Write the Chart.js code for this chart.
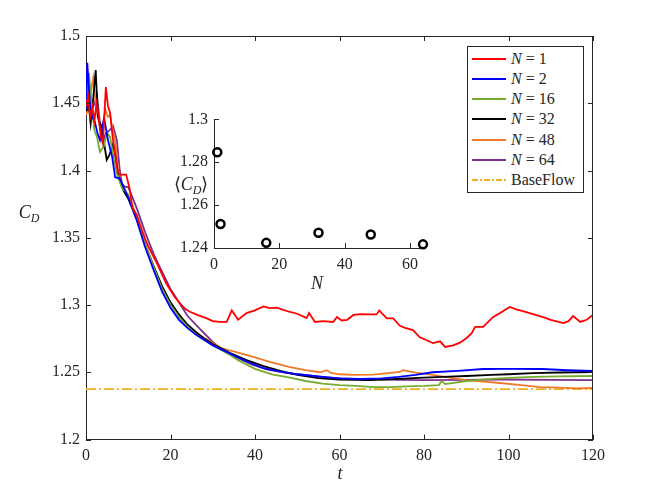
<!DOCTYPE html>
<html>
<head>
<meta charset="utf-8">
<script src="https://cdn.jsdelivr.net/npm/chart.js@4"></script>
<style>
  body { margin: 0; background: #fff; }
  #wrap { position: relative; width: 654px; height: 491px; font-family: "Liberation Serif", serif; color: #262626; }
  #main { position: absolute; left: 0; top: 0; }
  #inset { position: absolute; left: 150px; top: 95px; }
  .lab { position: absolute; transform: translate(-50%, -50%); white-space: nowrap; font-size: 18px; }
  .lab i { font-style: italic; }
  sub { font-size: 12px; vertical-align: -4px; font-style: italic; }
  #legend { position: absolute; left: 467px; top: 46px; width: 115px; height: 145px; border: 1px solid #262626; background: #fff; }
  .row { position: absolute; left: 0; height: 20px; font-size: 16px; line-height: 20px; }
  .row svg { position: absolute; left: 4px; top: 4px; }
  .row span { position: absolute; left: 43px; top: 0; white-space: nowrap; }
</style>
</head>
<body>
<div id="wrap">
  <canvas id="main" width="654" height="491"></canvas>
  <canvas id="inset" width="290" height="205"></canvas>
  <div class="lab" style="left:29px;top:214px"><i>C</i><sub>D</sub></div>
  <div class="lab" style="left:340px;top:473px"><i>t</i></div>
  <div class="lab" style="left:191px;top:185px">⟨<i>C</i><sub>D</sub>⟩</div>
  <div class="lab" style="left:317px;top:283px"><i>N</i></div>
  <div id="legend"></div>
</div>
<script>
// time histories of the drag coefficient, one per N
const t1 = [0, 0.5, 1, 1.5, 2, 2.5, 3, 3.5, 4, 4.7, 5.2, 5.7, 6.3, 7, 7.6, 8.2, 9.5, 10.3, 11, 12, 13, 14, 15, 16.8, 19, 21, 22.2, 23.5, 24.6, 26.5, 28.6, 30, 31.7, 33.3, 34.5, 36, 38, 40, 42, 43.5, 45.2, 46.5, 48.3, 50, 52.2, 52.8, 54.2, 56, 58.5, 59.4, 60.5, 61.8, 63.3, 65, 67, 68.8, 69.4, 71.2, 72.7, 74.3, 75.5, 77.4, 79, 80.5, 82.1, 83.8, 85, 86.9, 88.5, 90.1, 91.3, 92.1, 94, 96.3, 98, 100.3, 102, 103.4, 105, 108.2, 110, 113, 114.2, 115.3, 117, 118.5, 120]
const cd1 = [1.448, 1.455, 1.44, 1.447, 1.437, 1.45, 1.44, 1.425, 1.42, 1.462, 1.448, 1.443, 1.425, 1.41, 1.398, 1.397, 1.397, 1.387, 1.372, 1.367, 1.358, 1.349, 1.342, 1.331, 1.316, 1.306, 1.3015, 1.297, 1.295, 1.2925, 1.29, 1.288, 1.2874, 1.2874, 1.296, 1.289, 1.294, 1.296, 1.299, 1.2977, 1.298, 1.2965, 1.2948, 1.2935, 1.2903, 1.294, 1.2874, 1.288, 1.2874, 1.291, 1.2885, 1.289, 1.2926, 1.2932, 1.293, 1.293, 1.296, 1.29, 1.29, 1.2845, 1.283, 1.2814, 1.276, 1.274, 1.2717, 1.273, 1.2688, 1.27, 1.272, 1.2755, 1.279, 1.2837, 1.2837, 1.291, 1.294, 1.2985, 1.2965, 1.2955, 1.294, 1.291, 1.289, 1.2866, 1.288, 1.2918, 1.2874, 1.289, 1.2926]

const t2 = [0, 0.3, 1, 1.5, 2.1, 2.7, 3.3, 4.3, 5.2, 6.2, 6.9, 8, 9, 10, 12, 14, 16, 18, 20, 22, 24, 26, 28, 30, 34, 38, 42, 46, 50, 55, 60, 65, 70, 74, 78, 82, 88, 94, 100, 108, 114, 120]
const cd2 = [1.4465, 1.48, 1.447, 1.44, 1.436, 1.428, 1.4227, 1.439, 1.4227, 1.41, 1.395, 1.394, 1.387, 1.38, 1.363, 1.343, 1.326, 1.31, 1.298, 1.289, 1.283, 1.278, 1.274, 1.27, 1.264, 1.258, 1.253, 1.2505, 1.2485, 1.247, 1.2455, 1.245, 1.2455, 1.2465, 1.248, 1.25, 1.251, 1.2524, 1.2525, 1.2524, 1.2515, 1.251]

const t16 = [0, 0.7, 1.3, 2, 2.6, 3.3, 4.2, 5, 5.7, 6.5, 7.3, 8.5, 10, 12, 14, 16, 18, 20, 22, 24, 26, 28, 30, 32, 34, 36, 40, 44, 48, 52, 56, 60, 64, 68, 72, 76, 80, 83.5, 84.2, 85, 90, 96, 100, 106, 112, 120]
const cd16 = [1.45, 1.4725, 1.45, 1.43, 1.425, 1.4138, 1.418, 1.428, 1.425, 1.41, 1.398, 1.387, 1.382, 1.366, 1.346, 1.328, 1.312, 1.3, 1.291, 1.284, 1.278, 1.274, 1.27, 1.2665, 1.263, 1.259, 1.2525, 1.2485, 1.2462, 1.2435, 1.2415, 1.2405, 1.2398, 1.239, 1.239, 1.2395, 1.2398, 1.2405, 1.2435, 1.2412, 1.2435, 1.245, 1.2458, 1.2465, 1.247, 1.2472]

const t32 = [0, 0.2, 0.6, 1.1, 1.6, 2.3, 2.8, 3.3, 3.8, 4.3, 4.9, 5.6, 6.4, 7, 7.6, 8.8, 10, 12, 14, 16, 18, 20, 22, 24, 26, 28, 30, 34, 38, 42, 46, 50, 55, 60, 67, 74, 80, 86, 90, 96, 100, 105.8, 112, 120]
const cd32 = [1.445, 1.46, 1.45, 1.435, 1.45, 1.4747, 1.44, 1.435, 1.432, 1.42, 1.4078, 1.412, 1.4197, 1.41, 1.396, 1.3855, 1.379, 1.364, 1.345, 1.329, 1.314, 1.302, 1.293, 1.2855, 1.28, 1.275, 1.271, 1.2645, 1.259, 1.2545, 1.251, 1.248, 1.2457, 1.2445, 1.2442, 1.245, 1.246, 1.2468, 1.2472, 1.248, 1.2485, 1.2494, 1.2498, 1.2502]

const t48 = [0, 0.5, 1, 1.7, 2.3, 2.8, 3.3, 4, 4.6, 5.2, 5.7, 6.3, 6.9, 7.6, 8.5, 10, 12, 14, 16, 18, 20, 22, 24, 26, 28, 30, 32, 36.4, 40, 43.5, 48, 52, 55.4, 57, 58, 60, 63.2, 68, 74.3, 75, 78, 82.1, 86, 90.1, 94, 98, 103, 107.5, 112, 116, 120]
const cd48 = [1.4413, 1.445, 1.455, 1.4688, 1.45, 1.44, 1.4323, 1.435, 1.445, 1.44, 1.4413, 1.43, 1.4227, 1.4, 1.3877, 1.381, 1.365, 1.345, 1.328, 1.313, 1.301, 1.292, 1.285, 1.2795, 1.2755, 1.272, 1.268, 1.2643, 1.261, 1.2577, 1.254, 1.2515, 1.25, 1.2515, 1.2495, 1.2485, 1.248, 1.2482, 1.2502, 1.2515, 1.2497, 1.248, 1.246, 1.2442, 1.243, 1.242, 1.2405, 1.239, 1.2385, 1.238, 1.2383]

const t64 = [0, 0.5, 1, 1.4, 2, 2.6, 3.3, 4, 4.8, 5.6, 6.4, 7.3, 8, 8.5, 9.2, 10, 11, 12, 14, 16, 17.5, 20, 22, 24, 27, 30, 32, 35, 39.5, 43, 47.6, 52, 55.4, 60, 63.2, 70, 79, 90, 98, 110, 120]
const cd64 = [1.4547, 1.462, 1.45, 1.445, 1.45, 1.456, 1.435, 1.4227, 1.428, 1.43, 1.433, 1.4227, 1.4, 1.39, 1.388, 1.3877, 1.38, 1.372, 1.354, 1.338, 1.328, 1.312, 1.302, 1.292, 1.282, 1.2725, 1.2675, 1.262, 1.2554, 1.252, 1.2494, 1.248, 1.2465, 1.2455, 1.245, 1.2445, 1.2442, 1.2444, 1.2446, 1.2444, 1.2442]

const baseT = [0, 120]
const baseCD = [1.2375, 1.2375]

// time-averaged drag vs N (inset)
const nValues = [1, 2, 16, 32, 48, 64]
const meanCD = [1.2846, 1.2512, 1.2424, 1.2471, 1.2463, 1.2417]

const xTicks = [0, 20, 40, 60, 80, 100, 120]
const yTicks = [1.2, 1.25, 1.3, 1.35, 1.4, 1.45, 1.5]
const insetXTicks = [0, 20, 40, 60]
const insetYTicks = [1.24, 1.26, 1.28, 1.3]

const AXIS = '#262626'
const SERIF = "'Liberation Serif', 'DejaVu Serif', serif"
Chart.defaults.font.family = SERIF
Chart.defaults.font.size = 16
Chart.defaults.color = AXIS

function pairs(xs, ys) {
    return xs.map((x, i) => ({x: x, y: ys[i]}))
}

function lineSet(label, xs, ys, color, dash) {
    return {
        label: label,
        data: pairs(xs, ys),
        borderColor: color,
        borderWidth: 1.8,
        borderDash: dash || [],
        pointRadius: 0,
        tension: 0,
        fill: false
    }
}

const series = [
    {label: 'N = 1', t: t1, v: cd1, color: '#ff0000'},
    {label: 'N = 2', t: t2, v: cd2, color: '#0000ff'},
    {label: 'N = 16', t: t16, v: cd16, color: '#77ac30'},
    {label: 'N = 32', t: t32, v: cd32, color: '#000000'},
    {label: 'N = 48', t: t48, v: cd48, color: '#ee7a2a'},
    {label: 'N = 64', t: t64, v: cd64, color: '#7e2f8e'}
]

// inward ticks plus the box, like the original figure
function tickPlugin(box) {
    return {
        id: 'inTicks',
        afterDraw(chart) {
            const ctx = chart.ctx
            const a = chart.chartArea
            const xs = chart.scales.x
            const ys = chart.scales.y
            const len = 5
            ctx.save()
            ctx.strokeStyle = AXIS
            ctx.lineWidth = 1
            ctx.beginPath()
            xs.ticks.forEach((tk) => {
                const px = Math.round(xs.getPixelForValue(tk.value)) + 0.5
                ctx.moveTo(px, a.bottom)
                ctx.lineTo(px, a.bottom - len)
                if (box) {
                    ctx.moveTo(px, a.top)
                    ctx.lineTo(px, a.top + len)
                }
            })
            ys.ticks.forEach((tk) => {
                const py = Math.round(ys.getPixelForValue(tk.value)) + 0.5
                ctx.moveTo(a.left, py)
                ctx.lineTo(a.left + len, py)
                if (box) {
                    ctx.moveTo(a.right, py)
                    ctx.lineTo(a.right - len, py)
                }
            })
            if (box) {
                ctx.moveTo(a.left, a.top + 0.5)
                ctx.lineTo(a.right, a.top + 0.5)
                ctx.moveTo(a.right - 0.5, a.top)
                ctx.lineTo(a.right - 0.5, a.bottom)
            }
            ctx.stroke()
            ctx.restore()
        }
    }
}

function fmt(v) {
    return String(+v.toFixed(2))
}

function tickFont() {
    return {family: SERIF, size: 16, style: 'normal', weight: 'normal'}
}

function buildMain() {
    const mainSets = series.map((s) => lineSet(s.label, s.t, s.v, s.color))
    mainSets.push(lineSet('BaseFlow', baseT, baseCD, '#edb120', [10, 3, 2, 3]))

    new Chart(document.getElementById('main'), {
        type: 'line',
        data: {datasets: mainSets},
        options: {
            responsive: false,
            animation: false,
            layout: {padding: {left: 0, top: 36, right: 61, bottom: 0}},
            plugins: {legend: {display: false}, tooltip: {enabled: false}},
            scales: {
                x: {
                    type: 'linear', min: 0, max: 120,
                    afterBuildTicks: (s) => { s.ticks = xTicks.map((v) => ({value: v})) },
                    afterFit: (s) => { s.height = 51.5 },
                    grid: {display: false, drawTicks: false},
                    border: {display: true, color: AXIS, width: 1},
                    ticks: {color: AXIS, font: tickFont(), padding: 7, maxRotation: 0}
                },
                y: {
                    type: 'linear', min: 1.2, max: 1.5,
                    afterBuildTicks: (s) => { s.ticks = yTicks.map((v) => ({value: v})) },
                    afterFit: (s) => { s.width = 86 },
                    grid: {display: false, drawTicks: false},
                    border: {display: true, color: AXIS, width: 1},
                    ticks: {color: AXIS, font: tickFont(), padding: 6, callback: fmt}
                }
            }
        },
        plugins: [tickPlugin(true)]
    })
}

function buildInset() {
    new Chart(document.getElementById('inset'), {
        type: 'scatter',
        data: {
            datasets: [{
                data: pairs(nValues, meanCD),
                pointStyle: 'circle',
                pointRadius: 4,
                borderColor: '#000',
                backgroundColor: 'rgba(255,255,255,0)',
                borderWidth: 2.5,
                clip: false
            }]
        },
        options: {
            responsive: false,
            animation: false,
            layout: {padding: {left: 0, top: 24.3, right: 17, bottom: 0}},
            plugins: {legend: {display: false}, tooltip: {enabled: false}},
            scales: {
                x: {
                    type: 'linear', min: 0, max: 64,
                    afterBuildTicks: (s) => { s.ticks = insetXTicks.map((v) => ({value: v})) },
                    afterFit: (s) => { s.height = 52 },
                    grid: {display: false, drawTicks: false},
                    border: {display: true, color: AXIS, width: 1},
                    ticks: {color: AXIS, font: tickFont(), padding: 7, maxRotation: 0}
                },
                y: {
                    type: 'linear', min: 1.24, max: 1.3,
                    afterBuildTicks: (s) => { s.ticks = insetYTicks.map((v) => ({value: v})) },
                    afterFit: (s) => { s.width = 64 },
                    grid: {display: false, drawTicks: false},
                    border: {display: true, color: AXIS, width: 1},
                    ticks: {color: AXIS, font: tickFont(), padding: 6, callback: fmt}
                }
            }
        },
        plugins: [tickPlugin(false)]
    })
}

// legend box
function buildLegend() {
    const legend = document.getElementById('legend')
    const entries = series.map((s) => ({label: s.label, color: s.color, dash: ''}))
    entries.push({label: 'BaseFlow', color: '#edb120', dash: '6,2,2,2'})
    entries.forEach((e, i) => {
        const row = document.createElement('div')
        row.className = 'row'
        row.style.top = (1.5 + i * 20.3) + 'px'
        const svg = '<svg width="36" height="12"><line x1="0" y1="6" x2="34" y2="6" stroke="' + e.color +
            '" stroke-width="2"' + (e.dash ? ' stroke-dasharray="' + e.dash + '"' : '') + '/></svg>'
        let text
        if (e.label.startsWith('N')) {
            text = '<i>N</i> = ' + e.label.split('= ')[1]
        } else {
            text = e.label
        }
        row.innerHTML = svg + '<span>' + text + '</span>'
        legend.appendChild(row)
    })
}

buildLegend()
buildMain()
buildInset()
</script>
</body>
</html>
